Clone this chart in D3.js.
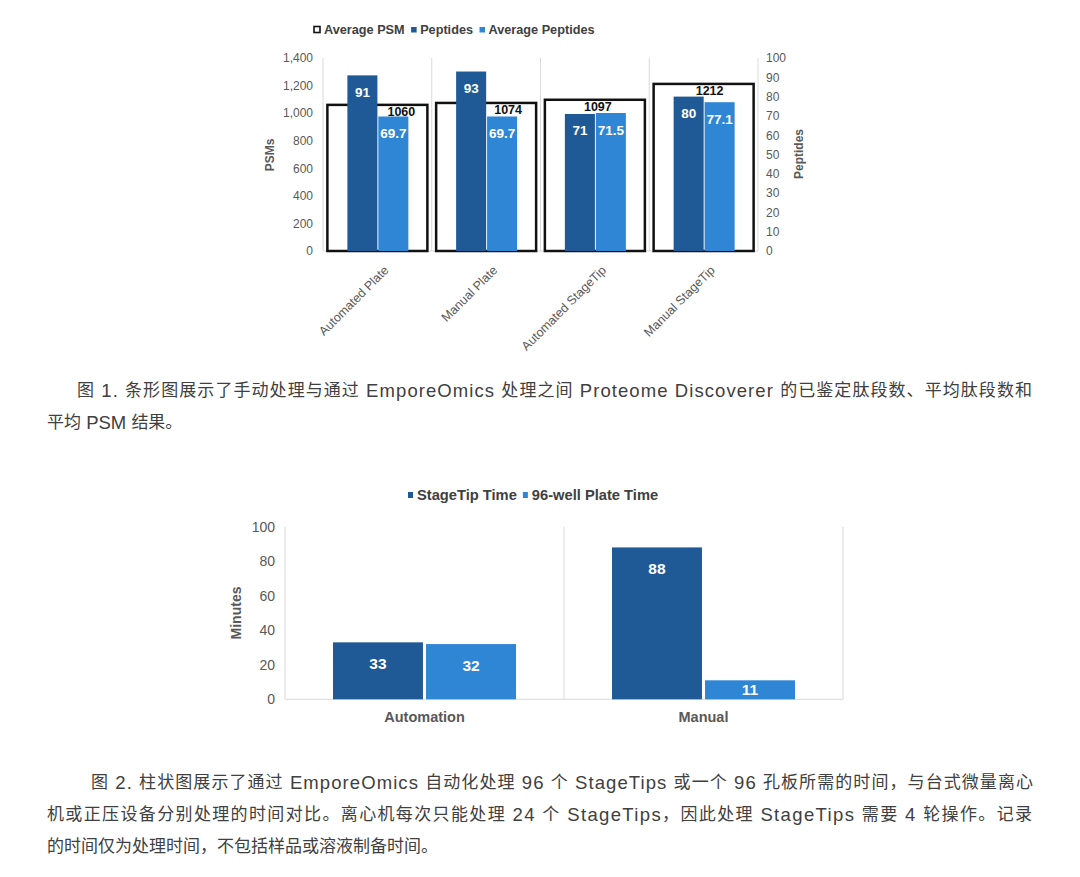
<!DOCTYPE html>
<html>
<head>
<meta charset="utf-8">
<script src="https://cdn.jsdelivr.net/npm/d3@7"></script>
<style>
  html, body { margin: 0; padding: 0; background: #fff; }
  svg { display: block; }
  text { font-family: "Liberation Sans", Arial, sans-serif; }
  .caption { font-family: "Liberation Sans", "Noto Sans CJK SC", sans-serif; font-size: 17px; fill: #404040; }
</style>
</head>
<body>
<div id="app"></div>
<script>
// chart 1 data
const methods = ['Automated Plate', 'Manual Plate', 'Automated StageTip', 'Manual StageTip'];
const avgPSM = [1060, 1074, 1097, 1212];
const peptides = [91, 93, 71, 80];
const avgPeptides = [69.7, 69.7, 71.5, 77.1];
const series1 = ['Average PSM', 'Peptides', 'Average Peptides'];

// chart 2 data
const groups = ['Automation', 'Manual'];
const stageTipTime = [33, 88];
const plateTime = [32, 11];
const series2 = ['StageTip Time', '96-well Plate Time'];

const captions1 = [
  '图 1. 条形图展示了手动处理与通过 EmporeOmics 处理之间 Proteome Discoverer 的已鉴定肽段数、平均肽段数和',
  '平均 PSM 结果。'
];
const captions2 = [
  '图 2. 柱状图展示了通过 EmporeOmics 自动化处理 96 个 StageTips 或一个 96 孔板所需的时间，与台式微量离心',
  '机或正压设备分别处理的时间对比。离心机每次只能处理 24 个 StageTips，因此处理 StageTips 需要 4 轮操作。记录',
  '的时间仅为处理时间，不包括样品或溶液制备时间。'
];

// small nudges for the PSM labels (they sit off-centre in the original)
const psmLabelDx = [24, 22, 3, 6];

const dark = '#1f5a96';
const light = '#2e86d4';
const grid = '#d9d9d9';
const axisText = '#595959';

const svg = d3.select('#app')
  .append('svg')
  .attr('width', 1080)
  .attr('height', 877);

svg.append('rect').attr('width', 1080).attr('height', 877).attr('fill', '#fff');

/* ---------- chart 1 ---------- */
const c1 = svg.append('g');

const x1 = d3.scaleBand().domain(methods).range([323, 758]);
const yL = d3.scaleLinear().domain([0, 1400]).range([251, 58]);
const yR = d3.scaleLinear().domain([0, 100]).range([251, 58]);

// vertical separators
c1.selectAll('line.sep')
  .data(d3.range(methods.length + 1))
  .enter()
  .append('line')
  .attr('x1', i => 323 + i * x1.step())
  .attr('x2', i => 323 + i * x1.step())
  .attr('y1', yL(1400))
  .attr('y2', yL(0))
  .attr('stroke', grid)
  .attr('stroke-width', 1);

c1.append('line')
  .attr('x1', 323).attr('x2', 758)
  .attr('y1', yL(0)).attr('y2', yL(0))
  .attr('stroke', grid);

// left axis
const leftAxis = c1.append('g')
  .attr('transform', 'translate(316,0)')
  .call(d3.axisLeft(yL).tickValues(d3.range(0, 1401, 200)).tickFormat(d3.format(',')).tickSize(0).tickPadding(3));
leftAxis.select('.domain').remove();
leftAxis.selectAll('text').attr('fill', axisText).style('font-size', '12px');

// right axis
const rightAxis = c1.append('g')
  .attr('transform', 'translate(763,0)')
  .call(d3.axisRight(yR).tickValues(d3.range(0, 101, 10)).tickSize(0).tickPadding(3));
rightAxis.select('.domain').remove();
rightAxis.selectAll('text').attr('fill', axisText).style('font-size', '12px');

// average PSM boxes
const boxW = 100;
c1.selectAll('rect.box')
  .data(methods)
  .enter()
  .append('rect')
  .attr('x', d => x1(d) + x1.bandwidth() / 2 - boxW / 2)
  .attr('y', (d, i) => yL(avgPSM[i]))
  .attr('width', boxW)
  .attr('height', (d, i) => yL(0) - yL(avgPSM[i]))
  .attr('fill', '#fff')
  .attr('stroke', '#111')
  .attr('stroke-width', 2.5);

// peptide bars
const inner1 = d3.scaleBand().domain(['Peptides', 'Average Peptides']).range([-30, 31]).paddingInner(0.03);
const barData1 = methods.flatMap((m, i) => [
  { m, key: 'Peptides', v: peptides[i], color: dark },
  { m, key: 'Average Peptides', v: avgPeptides[i], color: light }
]);

c1.selectAll('rect.bar')
  .data(barData1)
  .enter()
  .append('rect')
  .attr('x', d => x1(d.m) + x1.bandwidth() / 2 + inner1(d.key))
  .attr('y', d => yR(d.v))
  .attr('width', inner1.bandwidth())
  .attr('height', d => yR(0) - yR(d.v))
  .attr('fill', d => d.color);

c1.selectAll('text.barlabel')
  .data(barData1)
  .enter()
  .append('text')
  .attr('x', d => x1(d.m) + x1.bandwidth() / 2 + inner1(d.key) + inner1.bandwidth() / 2)
  .attr('y', d => yR(d.v) + 17)
  .attr('text-anchor', 'middle')
  .attr('dominant-baseline', 'central')
  .attr('fill', '#fff')
  .style('font-size', '13.5px')
  .style('font-weight', 'bold')
  .text(d => d.v);

c1.selectAll('text.psmlabel')
  .data(methods)
  .enter()
  .append('text')
  .attr('x', (d, i) => x1(d) + x1.bandwidth() / 2 + psmLabelDx[i])
  .attr('y', (d, i) => yL(avgPSM[i]) + 7)
  .attr('text-anchor', 'middle')
  .attr('dominant-baseline', 'central')
  .attr('fill', '#111')
  .style('font-size', '12.5px')
  .style('font-weight', 'bold')
  .text((d, i) => avgPSM[i]);

// category labels
c1.selectAll('text.cat')
  .data(methods)
  .enter()
  .append('text')
  .attr('transform', d => 'translate(' + (x1(d) + x1.bandwidth() / 2 + 12) + ',271) rotate(-45)')
  .attr('text-anchor', 'end')
  .attr('fill', axisText)
  .style('font-size', '12.5px')
  .text(d => d);

// axis titles
c1.append('text')
  .attr('transform', 'translate(270,155) rotate(-90)')
  .attr('text-anchor', 'middle')
  .attr('dominant-baseline', 'central')
  .attr('fill', axisText)
  .style('font-size', '12px')
  .style('font-weight', 'bold')
  .text('PSMs');

c1.append('text')
  .attr('transform', 'translate(799,154) rotate(-90)')
  .attr('text-anchor', 'middle')
  .attr('dominant-baseline', 'central')
  .attr('fill', axisText)
  .style('font-size', '12px')
  .style('font-weight', 'bold')
  .text('Peptides');

// legend
let lx = 313;
series1.forEach((s, i) => {
  if (i === 0) {
    c1.append('rect').attr('x', lx + 1).attr('y', 26.5).attr('width', 6).attr('height', 6)
      .attr('fill', '#fff').attr('stroke', '#111').attr('stroke-width', 1.6);
    lx += 11;
  } else {
    c1.append('rect').attr('x', lx).attr('y', 27).attr('width', 5.5).attr('height', 5.5)
      .attr('fill', i === 1 ? dark : light);
    lx += 9;
  }
  const t = c1.append('text')
    .attr('x', lx).attr('y', 30)
    .attr('dominant-baseline', 'central')
    .attr('fill', '#404040')
    .style('font-size', '12.7px')
    .style('font-weight', 'bold')
    .text(s);
  lx += t.node().getComputedTextLength() + 6.5;
});

/* ---------- chart 2 ---------- */
const c2 = svg.append('g');

const x2 = d3.scaleBand().domain(groups).range([285, 843]);
const y2 = d3.scaleLinear().domain([0, 100]).range([699.3, 526.7]);

c2.selectAll('line.sep')
  .data(d3.range(groups.length + 1))
  .enter()
  .append('line')
  .attr('x1', i => 285 + i * x2.step())
  .attr('x2', i => 285 + i * x2.step())
  .attr('y1', y2(100))
  .attr('y2', y2(0))
  .attr('stroke', grid);

c2.append('line')
  .attr('x1', 285).attr('x2', 843)
  .attr('y1', y2(0)).attr('y2', y2(0))
  .attr('stroke', grid);

const axis2 = c2.append('g')
  .attr('transform', 'translate(279,0)')
  .call(d3.axisLeft(y2).tickValues(d3.range(0, 101, 20)).tickSize(0).tickPadding(4));
axis2.select('.domain').remove();
axis2.selectAll('text').attr('fill', axisText).style('font-size', '14px');

const inner2 = d3.scaleBand().domain(series2).range([-91.5, 91.5]).paddingInner(0.033);
const barData2 = groups.flatMap((g, i) => [
  { g, key: series2[0], v: stageTipTime[i], color: dark },
  { g, key: series2[1], v: plateTime[i], color: light }
]);

c2.selectAll('rect.bar')
  .data(barData2)
  .enter()
  .append('rect')
  .attr('x', d => x2(d.g) + x2.bandwidth() / 2 + inner2(d.key))
  .attr('y', d => y2(d.v))
  .attr('width', inner2.bandwidth())
  .attr('height', d => y2(0) - y2(d.v))
  .attr('fill', d => d.color);

c2.selectAll('text.barlabel')
  .data(barData2)
  .enter()
  .append('text')
  .attr('x', d => x2(d.g) + x2.bandwidth() / 2 + inner2(d.key) + inner2.bandwidth() / 2)
  .attr('y', d => Math.min(y2(d.v) + 21, (y2(d.v) + y2(0)) / 2))
  .attr('text-anchor', 'middle')
  .attr('dominant-baseline', 'central')
  .attr('fill', '#fff')
  .style('font-size', '15.5px')
  .style('font-weight', 'bold')
  .text(d => d.v);

c2.selectAll('text.cat')
  .data(groups)
  .enter()
  .append('text')
  .attr('x', d => x2(d) + x2.bandwidth() / 2)
  .attr('y', 717)
  .attr('text-anchor', 'middle')
  .attr('dominant-baseline', 'central')
  .attr('fill', axisText)
  .style('font-size', '14.5px')
  .style('font-weight', 'bold')
  .text(d => d);

c2.append('text')
  .attr('transform', 'translate(236,613) rotate(-90)')
  .attr('text-anchor', 'middle')
  .attr('dominant-baseline', 'central')
  .attr('fill', axisText)
  .style('font-size', '14px')
  .style('font-weight', 'bold')
  .text('Minutes');

let lx2 = 408;
series2.forEach((s, i) => {
  c2.append('rect').attr('x', lx2).attr('y', 492).attr('width', 5).attr('height', 6)
    .attr('fill', i === 0 ? dark : light);
  lx2 += 9;
  const t = c2.append('text')
    .attr('x', lx2).attr('y', 495)
    .attr('dominant-baseline', 'central')
    .attr('fill', '#404040')
    .style('font-size', '14.7px')
    .style('font-weight', 'bold')
    .text(s);
  lx2 += t.node().getComputedTextLength() + 6;
});

/* ---------- captions ---------- */
// latin runs are set a little larger than the CJK runs, as in the original
function caption(lines, starts, ys, widths) {
  lines.forEach((line, i) => {
    const t = svg.append('text')
      .attr('class', 'caption')
      .attr('x', starts[i])
      .attr('y', ys[i])
      .attr('dominant-baseline', 'central');
    line.split(/([\x20-\x7E]+)/).filter(s => s.length).forEach(run => {
      t.append('tspan')
        .style('font-size', /^[\x20-\x7E]+$/.test(run) ? '18.5px' : '17px')
        .text(run);
    });
    if (widths[i]) t.attr('textLength', widths[i]).attr('lengthAdjust', 'spacing');
  });
}
caption(captions1, [77, 47], [390, 421.5], [955, 0]);
caption(captions2, [91, 47, 47], [781.5, 813.5, 845.5], [942, 985, 0]);
</script>
</body>
</html>
